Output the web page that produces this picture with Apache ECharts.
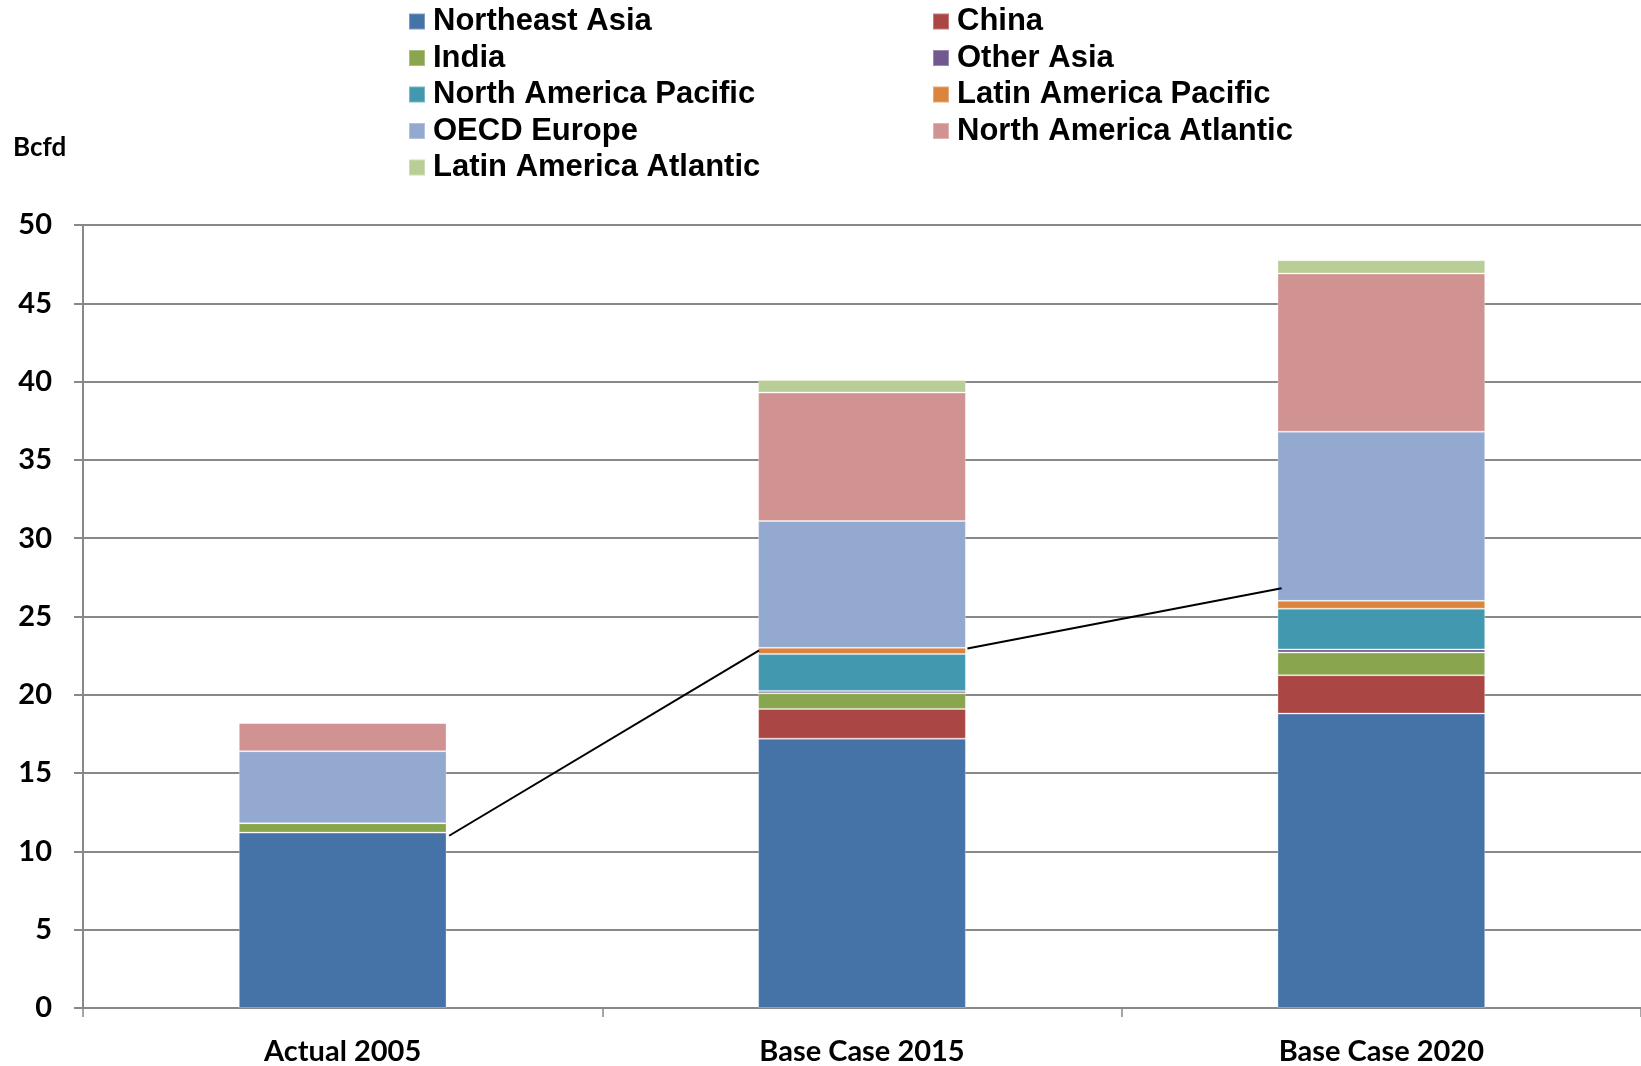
<!DOCTYPE html>
<html>
<head>
<meta charset="utf-8">
<script src="https://cdn.jsdelivr.net/npm/echarts@6/dist/echarts.min.js"></script>
<style>
  html, body { margin: 0; padding: 0; background: #fff; }
  #chart { width: 1641px; height: 1066px; }
</style>
</head>
<body>
<div id="chart"></div>
<script>
// LNG demand by region, Bcfd
const categories = ['Actual 2005', 'Base Case 2015', 'Base Case 2020'];

const northeastAsia        = [11.2, 17.2, 18.8];
const china                = [0,    1.9,  2.45];
const india                = [0.6,  1.0,  1.45];
const otherAsia            = [0,    0.15, 0.2];
const northAmericaPacific  = [0,    2.35, 2.6];
const latinAmericaPacific  = [0,    0.4,  0.5];
const oecdEurope           = [4.6,  8.1,  10.8];
const northAmericaAtlantic = [1.8,  8.2,  10.1];
const latinAmericaAtlantic = [0,    0.8,  0.85];

const yTicks = { min: 0, max: 50, interval: 5 };

// Divider line drawn between the bars (x in category units, y in Bcfd)
const dividerA = [[0.205, 11.0], [0.802, 22.83]];
const dividerB = [[1.203, 22.96], [1.808, 26.8]];

const seriesDefs = [
  ['Northeast Asia',         northeastAsia,        '#4572A7'],
  ['China',                  china,                '#AA4643'],
  ['India',                  india,                '#89A54E'],
  ['Other Asia',             otherAsia,            '#71588F'],
  ['North America Pacific',  northAmericaPacific,  '#4198AF'],
  ['Latin America Pacific',  latinAmericaPacific,  '#DB843D'],
  ['OECD Europe',            oecdEurope,           '#93A9CF'],
  ['North America Atlantic', northAmericaAtlantic, '#D19392'],
  ['Latin America Atlantic', latinAmericaAtlantic, '#B9CD96']
];

const axisFont = { fontFamily: 'Lato', fontWeight: 'bold', fontSize: 29, color: '#000' };
const legendFont = {
  fontFamily: 'Liberation Sans', fontWeight: 'bold', fontSize: 31, color: '#000',
  lineHeight: 30, padding: [0, 0, 0, 3]
};

const barSeries = seriesDefs.map(([name, data, color]) => ({
  name, type: 'bar', stack: 'total', data,
  xAxisIndex: 0, yAxisIndex: 0,
  barWidth: '40%',
  itemStyle: { color, borderColor: 'rgba(255,255,255,0.3)', borderWidth: 1 },
  emphasis: { disabled: true }
}));

const lineStyle = { color: '#000', width: 2 };
const dividerSeries = [dividerA, dividerB].map(d => ({
  type: 'line', data: d, xAxisIndex: 1, yAxisIndex: 0,
  symbol: 'none', lineStyle, silent: true, z: 5
}));

const chart = echarts.init(document.getElementById('chart'), null, { renderer: 'canvas' });
chart.setOption({
  animation: false,
  backgroundColor: '#fff',
  title: {
    text: 'Bcfd', left: 8, top: 130,
    textStyle: { fontFamily: 'Lato', fontWeight: 'bold', fontSize: 26, color: '#000' }
  },
  legend: [
    {
      orient: 'vertical', left: 403, top: 1, itemWidth: 16, itemHeight: 16, itemGap: 5.5,
      icon: 'rect', textStyle: legendFont,
      data: ['Northeast Asia', 'India', 'North America Pacific', 'OECD Europe', 'Latin America Atlantic']
    },
    {
      orient: 'vertical', left: 927, top: 1, itemWidth: 16, itemHeight: 16, itemGap: 5.5,
      icon: 'rect', textStyle: legendFont,
      data: ['China', 'Other Asia', 'Latin America Pacific', 'North America Atlantic']
    }
  ],
  grid: { left: 83, right: 0, top: 225, bottom: 57, containLabel: false },
  xAxis: [
    {
      type: 'category', data: categories,
      axisLine: { lineStyle: { color: '#888', width: 2 } },
      axisTick: { show: true, length: 9, lineStyle: { color: '#888', width: 1.5 } },
      axisLabel: Object.assign({ margin: 29 }, axisFont)
    },
    {
      type: 'value', min: -0.5, max: 2.5, show: false
    }
  ],
  yAxis: {
    type: 'value', min: yTicks.min, max: yTicks.max, interval: yTicks.interval,
    axisLine: { show: true, onZero: false, lineStyle: { color: '#888', width: 2 } },
    axisTick: { show: true, length: 9, lineStyle: { color: '#888', width: 2 } },
    splitLine: { lineStyle: { color: '#888', width: 2 } },
    axisLabel: Object.assign({ margin: 31 }, axisFont)
  },
  series: barSeries.concat(dividerSeries)
});
</script>
</body>
</html>
